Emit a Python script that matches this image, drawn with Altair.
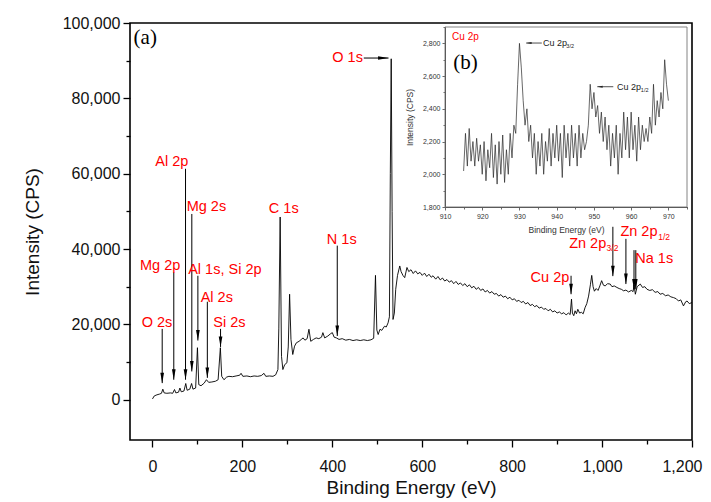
import altair as alt
import pandas as pd

# ---------------- main survey spectrum (binding energy eV, intensity CPS) ----------------
be = [0, 4, 10, 16, 20, 23, 26, 32, 40, 45,
      49, 52, 58, 61, 64, 70, 74, 77, 83, 87,
      90, 96, 100, 103, 108, 115, 120, 125, 132, 140,
      146, 151, 154, 159, 165, 170, 178, 186, 194, 197,
      201, 210, 218, 226, 234, 242, 248, 252, 260, 268,
      274, 279, 281, 284, 287, 290, 294, 299, 302, 305,
      308, 312, 316, 320, 326, 331, 335, 339, 344, 348,
      352, 358, 364, 370, 376, 379, 383, 390, 396, 400,
      404, 409, 415, 422, 430, 438, 446, 454, 462, 470,
      478, 486, 492, 496, 499, 502, 506, 510, 516, 520,
      524, 527, 529, 531, 533, 535, 538, 541, 545, 550,
      553, 557, 561, 566, 570, 575, 580, 585, 590, 595,
      600, 605, 610, 615, 620, 624, 630, 635, 640, 645,
      650, 655, 660, 665, 670, 675, 680, 685, 690, 695,
      700, 705, 710, 715, 720, 725, 730, 735, 740, 745,
      750, 755, 760, 765, 770, 775, 780, 785, 790, 795,
      800, 805, 810, 815, 820, 825, 830, 835, 840, 845,
      850, 855, 860, 865, 870, 875, 880, 885, 890, 895,
      900, 905, 910, 915, 920, 925, 929, 932, 934, 937,
      940, 943, 946, 950, 954, 958, 962, 966, 970, 974,
      977, 980, 983, 987, 991, 995, 999, 1003, 1007, 1012,
      1018, 1022, 1027, 1033, 1038, 1043, 1048, 1053, 1059, 1065,
      1069, 1071, 1074, 1078, 1085, 1090, 1095, 1100, 1106, 1112,
      1118, 1124, 1129, 1135, 1141, 1147, 1153, 1159, 1165, 1170,
      1175, 1181, 1186, 1189, 1194, 1200]
cps = [200, 1000, 1300, 1500, 1700, 2800, 1800, 1700, 1800, 1700,
       2700, 1800, 2000, 3100, 2100, 2300, 4300, 2500, 2800, 4300,
       2800, 3100, 13800, 4000, 3700, 4400, 5300, 4600, 4700, 4900,
       5300, 13800, 6200, 5300, 6000, 6200, 6100, 6300, 6500, 7000,
       6200, 6300, 6100, 6300, 6200, 6400, 7000, 6200, 6300, 6200,
       6600, 8000, 19000, 48500, 11500, 8000, 9300, 9800, 14000, 28000,
       16000, 12000, 14200, 15100, 15500, 16000, 16400, 15800, 16200, 18700,
       15500, 16000, 16400, 16200, 16600, 17800, 16400, 16900, 17500, 17800,
       16600, 16400, 16000, 16200, 15800, 16000, 15700, 15900, 15700, 15900,
       15700, 15900, 16300, 33000, 18500, 17300, 18700, 18400, 19500, 19300,
       20400, 22000, 60000, 90500, 50000, 21300, 23000, 29300, 33000, 35500,
       34000, 33000, 32400, 35100, 34000, 34500, 33500, 34200, 33400, 33800,
       33000, 33600, 32700, 33300, 32500, 32900, 32000, 32700, 31800, 32300,
       31500, 31900, 31200, 31600, 30800, 31400, 30600, 31000, 30300, 30800,
       30000, 30500, 29700, 30100, 29300, 29800, 29000, 29400, 28600, 29000,
       28300, 28700, 28000, 28200, 27500, 27900, 27200, 27500, 26800, 27200,
       26500, 26800, 26100, 26400, 25800, 26100, 25400, 25800, 25000, 25300,
       24700, 25000, 24300, 24600, 24000, 24200, 23600, 24000, 23300, 23600,
       23000, 23300, 22800, 23100, 22500, 23000, 22600, 26700, 23000, 22300,
       23600, 22800, 24000, 23000, 23200, 22800, 24400, 25500, 27500, 30500,
       33000, 30000, 28800, 29500, 29000, 30200, 31600, 30400, 30200, 30800,
       30700, 30000, 30200, 29800, 29500, 29300, 28900, 29100, 28600, 29000,
       28700, 30500, 28000, 30000, 30700, 29800, 30000, 29300, 29000, 29200,
       28500, 28700, 28000, 28200, 27600, 27800, 27300, 27100, 26800, 26200,
       26500, 24900, 26000, 26200, 25500, 25800]

# ---------------- inset: Cu 2p high-resolution ----------------
cu_be = [915 + 0.5 * i for i in range(111)]
cu_cps = [2020, 2250, 2050, 2280, 2080, 2200, 2050, 2220, 2080, 2180,
          2000, 2200, 1960, 2150, 2040, 2250, 1980, 2180, 1940, 2200,
          2000, 2240, 1950, 2150, 2000, 2250, 2100, 2300, 2250, 2550,
          2800, 2650, 2450, 2300, 2400, 2200, 2300, 2100, 2250, 2000,
          2200, 2050, 2250, 2000, 2200, 2080, 2280, 2050, 2250, 2100,
          2300, 2080, 2250, 1980, 2300, 2100, 2250, 2050, 2300, 2100,
          2250, 2050, 2300, 2100, 2250, 2150, 2200, 2300, 2550, 2400,
          2500, 2350, 2420, 2250, 2380, 2200, 2350, 2150, 2300, 2050,
          2250, 2100, 2300, 2000, 2250, 2100, 2380, 2150, 2350, 2100,
          2380, 2150, 2300, 2080, 2350, 2150, 2300, 2200, 2280, 2200,
          2350, 2250, 2550, 2300, 2450, 2350, 2500, 2400, 2700, 2550,
          2450]

# ---------------- axis ticks ----------------
x_major = [0, 200, 400, 600, 800, 1000, 1200]
x_minor = [100, 300, 500, 700, 900, 1100]
y_major = [0, 20000, 40000, 60000, 80000, 100000]
y_minor = [10000, 30000, 50000, 70000, 90000]
ix_major = [910, 920, 930, 940, 950, 960, 970]
ix_minor = [915, 925, 935, 945, 955, 965, 975]
iy_major = [1800, 2000, 2200, 2400, 2600, 2800]
iy_minor = [1900, 2100, 2300, 2500, 2700, 2900]

# ---------------- main annotations ----------------
label_text = ["O 1s", "Al 2p", "Mg 2s", "Mg 2p", "Al 1s, Si 2p", "Al 2s", "Si 2s", "O 2s",
              "C 1s", "N 1s", "Cu 2p", "Zn 2p", "Zn 2p", "Na 1s"]
label_be = [434, 43, 120, 17, 161, 143, 171, 10, 292, 421, 884, 968, 1082, 1116]
label_cps = [90700, 63200, 51200, 35400, 34500, 27100, 20400, 20400, 50500, 42500, 32400, 41300, 44500, 37300]
sub_text = ["3/2", "1/2"]
sub_be = [1010, 1125]
sub_cps = [40200, 43300]

arrow_be = [21.6, 47.4, 73.5, 87.5, 101, 122, 151.4, 411, 931, 1024, 1053, 1071, 1075]
arrow_top = [18800, 33800, 61300, 49300, 32900, 26000, 18800, 40900, 32900, 45900, 42700, 39700, 39700]
arrow_tip = [4400, 5300, 5300, 7500, 15700, 5800, 14000, 16900, 28000, 32800, 30700, 29300, 29300]

o1s_arrow_from = [470]
o1s_arrow_to = [525]
o1s_arrow_cps = [90700]

# ---------------- inset annotations ----------------
in_text = ["Cu 2p", "Cu 2p"]
in_be = [936.3, 956.2]
in_cps = [2802, 2533]
in_sub = ["3/2", "1/2"]
in_sub_be = [942.6, 962.6]
in_sub_cps = [2782, 2513]
in_arrow_from = [936.0, 955.2]
in_arrow_to = [931.8, 950.9]
in_arrow_cps = [2802, 2535]

FONT = "Liberation Sans"
SERIF = "Palatino Linotype, Book Antiqua, Liberation Serif, DejaVu Serif, serif"
W, H = 562, 417

# ---------------- main layer ----------------
xs = alt.Scale(domain=[-50, 1200], nice=False, zero=False)
ys = alt.Scale(domain=[-10700, 100000], nice=False, zero=False)


def main_axis(orient, values, title, size, labels=True):
    kw = dict(orient=orient, values=values, tickSize=size, tickWidth=1.3, tickColor="black",
              domain=False, grid=False, labelOverlap=False)
    if labels:
        kw.update(format=",.0f", labelFont=FONT, labelFontSize=16, labelColor="#111",
                  labelPadding=11 if orient == "bottom" else 3,
                  title=title, titleFont=FONT, titleFontSize=19, titleFontWeight="normal",
                  titleColor="#111", titlePadding=4 if orient == "bottom" else 20)
        if orient == "bottom":
            kw.update(labelFlush=1, labelFlushOffset=10)
        else:
            kw.update(labelFlush=False)
    else:
        kw.update(labels=False, title=None, labelFlush=False)
    return alt.Axis(**kw)


spec_df = pd.DataFrame({"be": be, "cps": cps})
spectrum = alt.Chart(spec_df).mark_line(color="black", strokeWidth=0.9).encode(
    x=alt.X("be:Q", scale=xs, axis=main_axis("bottom", x_major, "Binding Energy (eV)", 7)),
    y=alt.Y("cps:Q", scale=ys, axis=main_axis("left", y_major, "Intensity (CPS)", 7)),
)
minor_main = alt.Chart(spec_df).mark_line(opacity=0).encode(
    x=alt.X("be:Q", scale=xs, axis=main_axis("bottom", x_minor, None, 4, labels=False)),
    y=alt.Y("cps:Q", scale=ys, axis=main_axis("left", y_minor, None, 4, labels=False)),
)

arr_df = pd.DataFrame({"be": arrow_be, "top": arrow_top, "tip": arrow_tip})
shafts = alt.Chart(arr_df).mark_rule(color="black", strokeWidth=1).encode(
    x=alt.X("be:Q", scale=xs, axis=None),
    y=alt.Y("top:Q", scale=ys, axis=None),
    y2="tip:Q",
)
heads = alt.Chart(arr_df).mark_point(
    shape="M-0.35,-1L0.35,-1L0,1Z", filled=True, color="black", opacity=1, size=110, yOffset=-5.2
).encode(
    x=alt.X("be:Q", scale=xs, axis=None),
    y=alt.Y("tip:Q", scale=ys, axis=None),
)

o1s_df = pd.DataFrame({"a": o1s_arrow_from, "b": o1s_arrow_to, "cps": o1s_arrow_cps})
o1s_shaft = alt.Chart(o1s_df).mark_rule(color="black", strokeWidth=1).encode(
    x=alt.X("a:Q", scale=xs, axis=None), x2="b:Q",
    y=alt.Y("cps:Q", scale=ys, axis=None),
)
o1s_head = alt.Chart(o1s_df).mark_point(
    shape="M-1,-0.35L-1,0.35L1,0Z", filled=True, color="black", opacity=1, size=110, xOffset=-5.2
).encode(
    x=alt.X("b:Q", scale=xs, axis=None),
    y=alt.Y("cps:Q", scale=ys, axis=None),
)

lab_df = pd.DataFrame({"t": label_text, "be": label_be, "cps": label_cps})
labels = alt.Chart(lab_df).mark_text(
    font=FONT, fontSize=14.5, color="#ff0000", align="center", baseline="middle"
).encode(
    x=alt.X("be:Q", scale=xs, axis=None),
    y=alt.Y("cps:Q", scale=ys, axis=None),
    text="t:N",
)
sub_df = pd.DataFrame({"t": sub_text, "be": sub_be, "cps": sub_cps})
subs = alt.Chart(sub_df).mark_text(
    font=FONT, fontSize=8.5, color="#ff0000", align="left", baseline="middle"
).encode(
    x=alt.X("be:Q", scale=xs, axis=None),
    y=alt.Y("cps:Q", scale=ys, axis=None),
    text="t:N",
)
panel_a = alt.Chart(pd.DataFrame({"t": ["(a)"], "be": [-42], "cps": [96000]})).mark_text(
    font=SERIF, fontSize=21, color="black", align="left", baseline="middle"
).encode(
    x=alt.X("be:Q", scale=xs, axis=None),
    y=alt.Y("cps:Q", scale=ys, axis=None),
    text="t:N",
)

main = alt.layer(spectrum, minor_main, shafts, heads, o1s_shaft, o1s_head, labels, subs, panel_a
                 ).resolve_axis(x="independent", y="independent")

# ---------------- inset layer ----------------
ixs = alt.Scale(domain=[910, 975], range=[315, 557], nice=False, zero=False)
iys = alt.Scale(domain=[1800, 2900], range=[184, 4], nice=False, zero=False)


def inset_axis(orient, values, title, size, labels=True):
    kw = dict(orient=orient, values=values, tickSize=size, tickWidth=0.8, tickColor="#444",
              domain=True, domainColor="#444", domainWidth=1, grid=False,
              labelFlush=False, labelOverlap=False,
              offset=-233 if orient == "bottom" else -315)
    if labels:
        kw.update(format="d" if orient == "bottom" else ",.0f", labelFont=FONT, labelFontSize=7,
                  labelColor="#333", labelPadding=2,
                  title=title, titleFont=FONT, titleFontSize=8.5, titleFontWeight="normal",
                  titleColor="#333", titlePadding=6 if orient == "bottom" else 8)
    else:
        kw.update(labels=False, title=None)
    return alt.Axis(**kw)


cu_df = pd.DataFrame({"be": cu_be, "cps": cu_cps})
cu_line = alt.Chart(cu_df).mark_line(color="#262626", strokeWidth=0.7).encode(
    x=alt.X("be:Q", scale=ixs, axis=inset_axis("bottom", ix_major, "Binding Energy (eV)", 3)),
    y=alt.Y("cps:Q", scale=iys, axis=inset_axis("left", iy_major, "Intensity (CPS)", 3)),
)
minor_inset = alt.Chart(cu_df).mark_line(opacity=0).encode(
    x=alt.X("be:Q", scale=ixs, axis=inset_axis("bottom", ix_minor, None, 2, labels=False)),
    y=alt.Y("cps:Q", scale=iys, axis=inset_axis("left", iy_minor, None, 2, labels=False)),
)
frame = alt.Chart(pd.DataFrame({"x1": [910], "x2": [975], "y1": [1800], "y2": [2900]})).mark_rect(
    fillOpacity=0, stroke="#777", strokeWidth=0.9
).encode(
    x=alt.X("x1:Q", scale=ixs, axis=None), x2="x2:Q",
    y=alt.Y("y1:Q", scale=iys, axis=None), y2="y2:Q",
)
in_df = pd.DataFrame({"t": in_text, "be": in_be, "cps": in_cps})
in_labels = alt.Chart(in_df).mark_text(
    font=FONT, fontSize=9, color="#222", align="left", baseline="middle"
).encode(
    x=alt.X("be:Q", scale=ixs, axis=None),
    y=alt.Y("cps:Q", scale=iys, axis=None),
    text="t:N",
)
in_sub_df = pd.DataFrame({"t": in_sub, "be": in_sub_be, "cps": in_sub_cps})
in_subs = alt.Chart(in_sub_df).mark_text(
    font=FONT, fontSize=5.5, color="#222", align="left", baseline="middle"
).encode(
    x=alt.X("be:Q", scale=ixs, axis=None),
    y=alt.Y("cps:Q", scale=iys, axis=None),
    text="t:N",
)
in_arr_df = pd.DataFrame({"a": in_arrow_from, "b": in_arrow_to, "cps": in_arrow_cps})
in_shaft = alt.Chart(in_arr_df).mark_rule(color="#222", strokeWidth=0.8).encode(
    x=alt.X("a:Q", scale=ixs, axis=None), x2="b:Q",
    y=alt.Y("cps:Q", scale=iys, axis=None),
)
in_head = alt.Chart(in_arr_df).mark_point(
    shape="M1,-0.35L1,0.35L-1,0Z", filled=True, color="#222", opacity=1, size=30, xOffset=2.7
).encode(
    x=alt.X("b:Q", scale=ixs, axis=None),
    y=alt.Y("cps:Q", scale=iys, axis=None),
)
cu_tag = alt.Chart(pd.DataFrame({"t": ["Cu 2p"], "be": [911.9], "cps": [2838]})).mark_text(
    font=FONT, fontSize=10, color="#ff0000", align="left", baseline="middle"
).encode(
    x=alt.X("be:Q", scale=ixs, axis=None),
    y=alt.Y("cps:Q", scale=iys, axis=None),
    text="t:N",
)
panel_b = alt.Chart(pd.DataFrame({"t": ["(b)"], "be": [912.2], "cps": [2679]})).mark_text(
    font=SERIF, fontSize=21, color="black", align="left", baseline="middle"
).encode(
    x=alt.X("be:Q", scale=ixs, axis=None),
    y=alt.Y("cps:Q", scale=iys, axis=None),
    text="t:N",
)

inset = alt.layer(frame, cu_line, minor_inset, in_shaft, in_head, in_labels, in_subs, cu_tag, panel_b
                  ).resolve_axis(x="independent", y="independent")

chart = (
    alt.layer(main, inset)
    .resolve_scale(x="independent", y="independent")
    .properties(
        width=W, height=H,
        autosize=alt.AutoSizeParams(type="none"),
        padding={"left": 122, "top": 15, "right": 11, "bottom": 60},
        background="white",
    )
    .configure_view(stroke="black", strokeWidth=1.6)
)

chart.save("out.html", embed_options={"renderer": "svg", "actions": False})
